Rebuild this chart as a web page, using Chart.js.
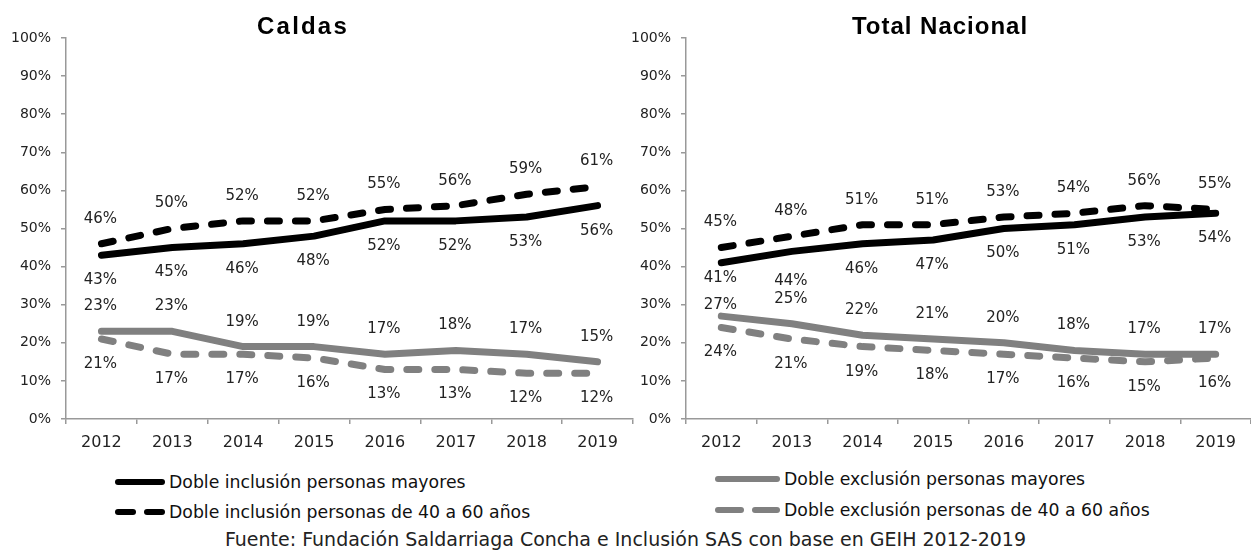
<!DOCTYPE html>
<html>
<head>
<meta charset="utf-8">
<script src="https://cdn.jsdelivr.net/npm/chart.js@4/dist/chart.umd.min.js"></script>
<style>
  html, body { margin: 0; padding: 0; background: #fff; }
  #wrap { position: relative; width: 1251px; height: 552px; background: #fff; overflow: hidden; font-family: "DejaVu Sans", sans-serif; color: #222; }
  canvas { position: absolute; top: 0; }
  .title { position: absolute; top: 14px; width: 300px; text-align: center; font-family: "Liberation Sans", Arial, sans-serif; font-weight: bold; font-size: 24px; line-height: 24px; color: #000; }
  .leg { position: absolute; display: flex; align-items: center; font-size: 17.3px; line-height: 20px; color: #111; white-space: nowrap; }
  .sw { display: flex; align-items: center; margin-right: 4px; }
  .seg { height: 6px; border-radius: 3px; }
  #src { position: absolute; left: 0; width: 1251px; top: 528px; text-align: center; font-size: 19px; line-height: 22px; color: #222; }
</style>
</head>
<body>
<div id="wrap">
  <canvas id="c1" width="640" height="460" style="left:0px;width:640px;height:460px"></canvas>
  <canvas id="c2" width="631" height="460" style="left:620px;width:631px;height:460px"></canvas>
  <div class="title" id="t1" style="left:153px;letter-spacing:2.2px"></div>
  <div class="title" id="t2" style="left:790px;letter-spacing:1px"></div>
  <div id="legend"></div>
  <div id="src"></div>
</div>
<script>
// ---- data ----
const years = ['2012', '2013', '2014', '2015', '2016', '2017', '2018', '2019'];
const panelTitles = ['Caldas', 'Total Nacional'];
const seriesNames = [
  'Doble inclusión personas mayores',
  'Doble inclusión personas de 40 a 60 años',
  'Doble exclusión personas mayores',
  'Doble exclusión personas de 40 a 60 años'
];
const caldasInclMayores = [43, 45, 46, 48, 52, 52, 53, 56];
const caldasInclAdultos = [46, 50, 52, 52, 55, 56, 59, 61];
const caldasExclMayores = [23, 23, 19, 19, 17, 18, 17, 15];
const caldasExclAdultos = [21, 17, 17, 16, 13, 13, 12, 12];
const nacInclMayores = [41, 44, 46, 47, 50, 51, 53, 54];
const nacInclAdultos = [45, 48, 51, 51, 53, 54, 56, 55];
const nacExclMayores = [27, 25, 22, 21, 20, 18, 17, 17];
const nacExclAdultos = [24, 21, 19, 18, 17, 16, 15, 16];
const sourceText = 'Fuente: Fundación Saldarriaga Concha e Inclusión SAS con base en GEIH 2012-2019';

// ---- styles ----
const BLACK = '#000000';
const GRAY = '#808080';
const DASH = [12, 16];
const seriesStyle = [
  { color: BLACK, dash: [], above: false },
  { color: BLACK, dash: DASH, above: true },
  { color: GRAY, dash: [], above: true },
  { color: GRAY, dash: DASH, above: false }
];
// label offset overrides (pixels from point), keyed "dataset:index"
const labelOffsetsNacional = { '0:0': 15, '0:1': 30, '2:0': -11 };

function makeDatasets(arrs) {
  return arrs.map((d, i) => ({
    label: seriesNames[i],
    data: d,
    borderColor: seriesStyle[i].color,
    backgroundColor: seriesStyle[i].color,
    borderWidth: 7,
    borderDash: seriesStyle[i].dash,
    borderCapStyle: 'round',
    borderJoinStyle: 'round',
    pointRadius: 0,
    tension: 0,
    fill: false,
    labelAbove: seriesStyle[i].above
  }));
}

const valueLabels = {
  id: 'valueLabels',
  afterDatasetsDraw(chart, args, opts) {
    const ctx = chart.ctx;
    const over = opts.overrides || {};
    ctx.save();
    ctx.font = '15px "DejaVu Sans"';
    ctx.fillStyle = '#222';
    ctx.textAlign = 'center';
    ctx.textBaseline = 'middle';
    chart.data.datasets.forEach((ds, i) => {
      const meta = chart.getDatasetMeta(i);
      meta.data.forEach((pt, j) => {
        let off = ds.labelAbove ? -25 : 25;
        const key = i + ':' + j;
        if (key in over) off = over[key];
        ctx.fillText(ds.data[j] + '%', pt.x - 1, pt.y + off);
      });
    });
    ctx.restore();
  }
};

function makeChart(id, arrs, padRight, overrides) {
  return new Chart(document.getElementById(id), {
    type: 'line',
    data: { labels: years, datasets: makeDatasets(arrs) },
    options: {
      responsive: false,
      animation: false,
      devicePixelRatio: 1,
      layout: { padding: { top: 38, right: padRight, bottom: 6, left: 0 } },
      plugins: {
        legend: { display: false }, tooltip: { enabled: false }, title: { display: false },
        valueLabels: { overrides: overrides }
      },
      scales: {
        x: {
          type: 'category',
          offset: true,
          grid: { display: true, drawOnChartArea: false, drawTicks: true, tickLength: 5, color: '#999', offset: true, lineWidth: 1.5 },
          border: { display: true, color: '#999', width: 1.5 },
          ticks: { color: '#222', font: { family: 'DejaVu Sans', size: 16 }, padding: 9, maxRotation: 0 },
          afterFit(s) { s.height = 35; }
        },
        y: {
          min: 0, max: 100,
          grid: { display: true, drawOnChartArea: false, drawTicks: true, tickLength: 5, color: '#999', lineWidth: 1.5 },
          border: { display: true, color: '#999', width: 1.5 },
          ticks: { stepSize: 10, color: '#222', font: { family: 'DejaVu Sans', size: 14 }, padding: 10, callback: v => v + '%' },
          afterFit(s) { s.width = 66; }
        }
      }
    },
    plugins: [valueLabels]
  });
}

makeChart('c1', [caldasInclMayores, caldasInclAdultos, caldasExclMayores, caldasExclAdultos], 7, {});
makeChart('c2', [nacInclMayores, nacInclAdultos, nacExclMayores, nacExclAdultos], 0, labelOffsetsNacional);

document.getElementById('t1').textContent = panelTitles[0];
document.getElementById('t2').textContent = panelTitles[1];
document.getElementById('src').textContent = sourceText;

// legend (left panel: black series, right panel: gray series)
const legendPos = [
  { left: 115, top: 472, w: 50 },
  { left: 115, top: 502, w: 50 },
  { left: 715, top: 469, w: 65 },
  { left: 715, top: 500, w: 65 }
];
const legend = document.getElementById('legend');
seriesNames.forEach((name, i) => {
  const p = legendPos[i];
  const st = seriesStyle[i];
  const item = document.createElement('div');
  item.className = 'leg';
  item.style.left = p.left + 'px';
  item.style.top = p.top + 'px';
  const sw = document.createElement('div');
  sw.className = 'sw';
  sw.style.width = p.w + 'px';
  if (st.dash.length) {
    const segW = Math.round((p.w - 8) / 2);
    for (let k = 0; k < 2; k++) {
      const s = document.createElement('div');
      s.className = 'seg';
      s.style.width = segW + 'px';
      s.style.background = st.color;
      if (k === 0) s.style.marginRight = '8px';
      sw.appendChild(s);
    }
  } else {
    const s = document.createElement('div');
    s.className = 'seg';
    s.style.width = p.w + 'px';
    s.style.background = st.color;
    sw.appendChild(s);
  }
  item.appendChild(sw);
  const t = document.createElement('span');
  t.textContent = name;
  item.appendChild(t);
  legend.appendChild(item);
});
</script>
</body>
</html>
